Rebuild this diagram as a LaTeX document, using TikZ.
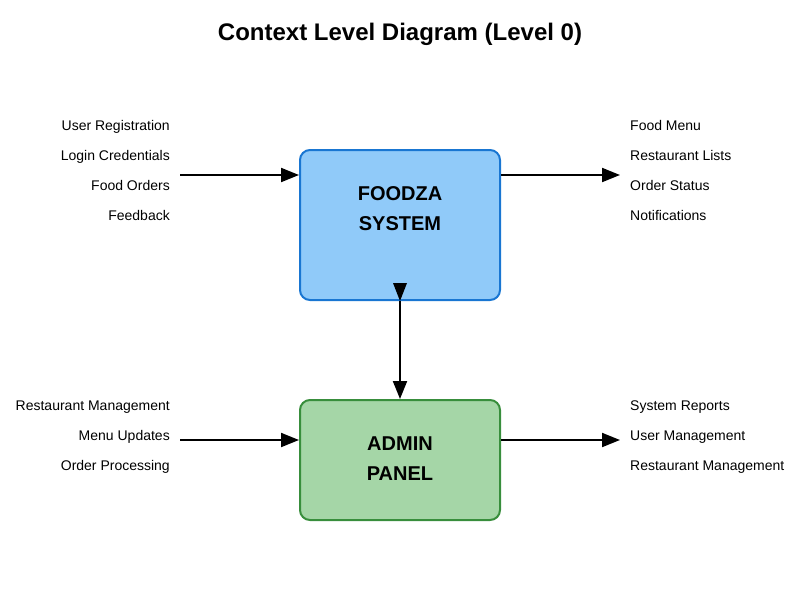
\documentclass[tikz,border=0pt]{standalone}
\usepackage{fontspec}
\setmainfont{Liberation Sans}
\usetikzlibrary{arrows.meta,calc}
\definecolor{bluefill}{HTML}{90CAF9}
\definecolor{blueline}{HTML}{1976D2}
\definecolor{greenfill}{HTML}{A5D6A7}
\definecolor{greenline}{HTML}{388E3C}
\tikzset{
  proc/.style={draw, line width=2pt, rounded corners=10pt, minimum width=200pt, inner sep=0pt},
  ptext/.style={inner sep=0pt, anchor=base, font=\fontsize{20}{24}\selectfont\bfseries},
  lbl/.style={inner sep=0pt, font=\fontsize{14}{16}\selectfont},
  flow/.style={line width=2pt, -{Triangle[length=18pt,width=14pt]}},
}
\begin{document}
\begin{tikzpicture}[x=1pt,y=-1pt]
\useasboundingbox (0,0) rectangle (800,600);
\node[inner sep=0pt, anchor=base, font=\fontsize{24}{28}\selectfont\bfseries] (title) at (400,40) {Context Level Diagram (Level 0)};
\node[proc, fill=bluefill, draw=blueline, minimum height=150pt] (sys) at (400,225) {};
\node[proc, fill=greenfill, draw=greenline, minimum height=120pt] (adm) at (400,460) {};
\node[ptext] (sysa) at (400,200) {FOODZA};
\node[ptext] (sysb) at (400,230) {SYSTEM};
\node[ptext] (adma) at (400,450) {ADMIN};
\node[ptext] (admb) at (400,480) {PANEL};
% left top labels
\node[lbl, anchor=base east] (l1) at (170,130) {User Registration};
\node[lbl, anchor=base east] (l2) at (170,160) {Login Credentials};
\node[lbl, anchor=base east] (l3) at (170,190) {Food Orders};
\node[lbl, anchor=base east] (l4) at (170,220) {Feedback};
% right top labels
\node[lbl, anchor=base west] (r1) at (630,130) {Food Menu};
\node[lbl, anchor=base west] (r2) at (630,160) {Restaurant Lists};
\node[lbl, anchor=base west] (r3) at (630,190) {Order Status};
\node[lbl, anchor=base west] (r4) at (630,220) {Notifications};
% left bottom labels
\node[lbl, anchor=base east] (bl1) at (170,410) {Restaurant Management};
\node[lbl, anchor=base east] (bl2) at (170,440) {Menu Updates};
\node[lbl, anchor=base east] (bl3) at (170,470) {Order Processing};
% right bottom labels
\node[lbl, anchor=base west] (br1) at (630,410) {System Reports};
\node[lbl, anchor=base west] (br2) at (630,440) {User Management};
\node[lbl, anchor=base west] (br3) at (630,470) {Restaurant Management};
% connector ends
\coordinate (inA) at (180,175);
\coordinate (outA) at (620,175);
\coordinate (inB) at (180,440);
\coordinate (outB) at (620,440);
\draw[flow] (inA) -- (inA -| sys.west);
\draw[flow] (outA -| sys.east) -- (outA);
\draw[flow] (inB) -- (inB -| adm.west);
\draw[flow] (outB -| adm.east) -- (outB);
\draw[flow] (sys.south) -- (adm.north);
\fill (sys.south) -- ($(sys.south)+(-7,-18)$) -- ($(sys.south)+(7,-18)$) -- cycle;
\end{tikzpicture}
\end{document}
